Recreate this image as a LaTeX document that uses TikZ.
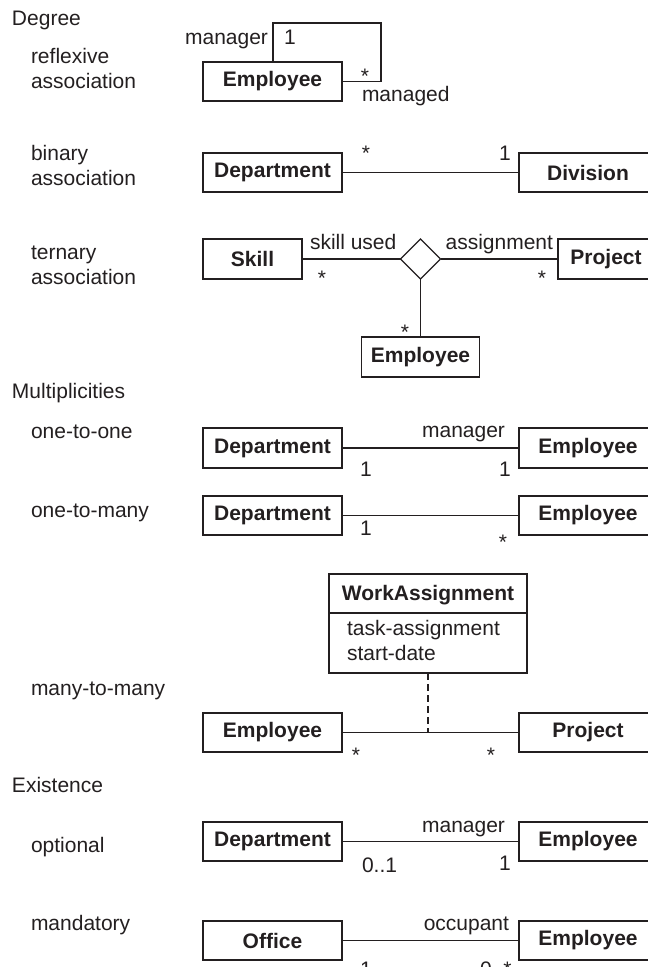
\documentclass[tikz,border=0pt]{standalone}
\usepackage{fontspec}
\setmainfont{Liberation Sans}
\usetikzlibrary{shapes.geometric}
\definecolor{ink}{RGB}{35,31,32}
\begin{document}
\begin{tikzpicture}[x=1pt,y=-1pt,
  every node/.style={inner sep=0pt, outer sep=0pt, text=ink, font=\fontsize{21}{25}\selectfont},
  cls/.style={draw=ink, line width=1.3pt, minimum height=39pt, minimum width=139pt, font=\fontsize{21}{25}\selectfont\bfseries},
  rcls/.style={cls, minimum width=138pt},
  conn/.style={draw=ink, line width=1.3pt},
  side/.style={anchor=base west},
  lblw/.style={anchor=base west},
  lble/.style={anchor=base east},
  lblc/.style={anchor=base},
  two/.style={anchor=base west}
]
\useasboundingbox (0,0) rectangle (648,967);
\clip (0,0) rectangle (648,967);

% ---------- side labels ----------
\node[side] (hDeg) at (12,25) {Degree};
\node[two] (lRefl) at (31,63) {\begin{tabular}[t]{@{}l@{}}reflexive\\association\end{tabular}};
\node[two] (lBin) at (31,160) {\begin{tabular}[t]{@{}l@{}}binary\\association\end{tabular}};
\node[two] (lTer) at (31,259) {\begin{tabular}[t]{@{}l@{}}ternary\\association\end{tabular}};
\node[side] (hMul) at (12,398) {Multiplicities};
\node[side] (l11) at (31,438) {one-to-one};
\node[side] (l1n) at (31,517) {one-to-many};
\node[side] (lnn) at (31,695) {many-to-many};
\node[side] (hEx) at (12,792) {Existence};
\node[side] (lOpt) at (31,852) {optional};
\node[side] (lMan) at (31,930) {mandatory};

% ---------- reflexive ----------
\node[cls] (emp0) at (272.5,81.5) {Employee};
\coordinate (loopA) at (273,23);
\coordinate (loopB) at (381,23);
\draw[conn] (emp0.north -| loopA) -- (loopA) -- (loopB) |- (emp0.east);
\node[lble] (r1) at (268,44) {manager};
\node[lblw] (r2) at (284,44) {1};
\node[lblc] (r3) at (365,83) {*};
\node[lblw] (r4) at (362,101) {managed};

% ---------- binary ----------
\node[cls] (dep0) at (272.5,172.5) {Department};
\node[rcls] (div0) at (588,172.5) {Division};
\draw[conn] (dep0.east) -- (div0.west);
\node[lblc] (b1) at (366,160) {*};
\node[lblc] (b2) at (505,160) {1};

% ---------- ternary ----------
\node[cls, minimum width=99pt, minimum height=40pt] (skill) at (252.5,259) {Skill};
\node[draw=ink, line width=1.3pt, diamond, minimum width=40pt, minimum height=40pt] (dia) at (420.5,259) {};
\node[cls, minimum width=96pt, minimum height=40pt] (proj1) at (606,259) {Project};
\node[cls, minimum width=118pt, minimum height=40pt] (emp1) at (420.5,357) {Employee};
\draw[conn] (skill.east) -- (dia.west);
\draw[conn] (dia.east) -- (proj1.west);
\draw[conn] (dia.south) -- (emp1.north);
\node[lblw] (t1) at (310,249) {skill used};
\node[lble] (t2) at (553,249) {assignment};
\node[lblc] (t3) at (322,285) {*};
\node[lblc] (t4) at (542,285) {*};
\node[lblc] (t5) at (405,339) {*};

% ---------- one-to-one ----------
\node[cls, minimum height=40pt] (dep1) at (272.5,448) {Department};
\node[rcls, minimum height=40pt] (emp2) at (588,448) {Employee};
\draw[conn] (dep1.east) -- (emp2.west);
\node[lble] (o1) at (505,437) {manager};
\node[lblc] (o2) at (366,476) {1};
\node[lblc] (o3) at (505,476) {1};

% ---------- one-to-many ----------
\node[cls] (dep2) at (272.5,515.5) {Department};
\node[rcls] (emp3) at (588,515.5) {Employee};
\draw[conn] (dep2.east) -- (emp3.west);
\node[lblc] (m1) at (366,535) {1};
\node[lblc] (m2) at (503,549) {*};

% ---------- many-to-many ----------
\node[draw=ink, line width=1.3pt, minimum width=198pt, minimum height=99pt] (wa) at (428,623.5) {};
\node[anchor=base, font=\fontsize{21}{25}\selectfont\bfseries] (waT) at (428,600) {WorkAssignment};
\draw[conn] (wa.west |- 0,613) -- (wa.east |- 0,613);
\node[anchor=base west] (waA) at (347,635) {task-assignment};
\node[anchor=base west] (waB) at (347,660) {start-date};
\node[cls] (emp4) at (272.5,732.5) {Employee};
\node[rcls] (proj2) at (588,732.5) {Project};
\draw[conn] (emp4.east) -- (proj2.west);
\coordinate (waJ) at (wa.south |- emp4.east);
\draw[conn, dash pattern=on 7pt off 4pt] (wa.south) -- (waJ);
\node[lblc] (n1) at (356,762) {*};
\node[lblc] (n2) at (491,762) {*};

% ---------- optional ----------
\node[cls] (dep3) at (272.5,841.5) {Department};
\node[rcls] (emp5) at (588,841.5) {Employee};
\draw[conn] (dep3.east) -- (emp5.west);
\node[lble] (p1) at (505,832) {manager};
\node[lblw] (p2) at (362,872) {0..1};
\node[lblc] (p3) at (505,870) {1};

% ---------- mandatory ----------
\node[cls] (office) at (272.5,940.5) {Office};
\node[rcls] (emp6) at (588,940.5) {Employee};
\draw[conn] (office.east) -- (emp6.west);
\node[lble] (q1) at (509,930) {occupant};
\node[lblc] (q2) at (366,976) {1};
\node[lblw] (q3) at (480,976) {0..*};
\end{tikzpicture}
\end{document}
